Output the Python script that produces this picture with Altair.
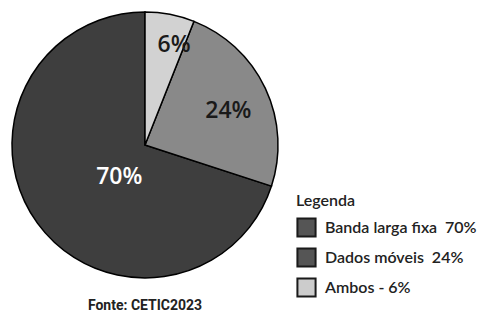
import altair as alt
import pandas as pd

categories = ["Banda larga fixa", "Dados móveis", "Ambos"]
values = [70, 24, 6]
legend_labels = ["Banda larga fixa\u00a0\u00a070%", "Dados móveis\u00a0\u00a024%", "Ambos - 6%"]
slice_labels = ["70%", "24%", "6%"]
pie_order = [3, 2, 1]
colors = ["#3e3e3e", "#898989", "#d2d2d2"]
legend_colors = ["#555555", "#555555", "#cccccc"]

df = pd.DataFrame({
    "categoria": categories,
    "valor": values,
    "legenda": legend_labels,
    "rotulo": slice_labels,
    "ordem": pie_order,
})

theta_scale = alt.Scale(domain=[0, 100])

base = alt.Chart(df).encode(
    theta=alt.Theta("valor:Q", stack=True, scale=theta_scale),
    order=alt.Order("ordem:Q"),
)

arcs = base.mark_arc(outerRadius=133, stroke="black", strokeWidth=1.5).encode(
    fill=alt.Fill(
        "categoria:N",
        scale=alt.Scale(domain=categories, range=colors),
        legend=None,
    ),
)

legend_layer = base.mark_arc(outerRadius=100, opacity=0.001).encode(
    color=alt.Color(
        "legenda:N",
        scale=alt.Scale(domain=legend_labels, range=legend_colors),
        legend=alt.Legend(
            title="Legenda",
            orient="none",
            legendX=288,
            legendY=185,
            symbolType="square",
            symbolSize=330,
            symbolStrokeColor="#1a1a1a",
            symbolStrokeWidth=2,
            symbolOpacity=1,
            labelFont="Lato",
            labelFontSize=16,
            labelFontWeight=600,
            labelColor="#222",
            labelLimit=300,
            titleFont="Lato",
            titleFontSize=16,
            titleFontWeight=600,
            titleColor="#222",
            titlePadding=8,
            rowPadding=3,
            labelOffset=8,
        ),
    ),
)

mids = alt.Chart(df).transform_window(
    cum="sum(valor)", sort=[alt.SortField("ordem", order="ascending")]
).transform_calculate(mid="datum.cum - datum.valor / 2")


def label_layer(name, radius, color, dx, dy):
    return mids.transform_filter(alt.datum.rotulo == name).mark_text(
        radius=radius, font="Open Sans", fontSize=23, fontWeight=600, color=color,
        dx=dx, dy=dy,
    ).encode(
        theta=alt.Theta("mid:Q", stack=None, scale=theta_scale),
        text="rotulo:N",
    )


chart = alt.layer(
    arcs,
    legend_layer,
    label_layer("6%", 102, "#1a1a1a", 10, 0),
    label_layer("24%", 91, "#1a1a1a", 1, 5),
    label_layer("70%", 43, "white", 9, 7),
).properties(
    width=274,
    height=274,
    padding=0,
    title=alt.TitleParams(
        "Fonte: CETIC2023",
        orient="bottom",
        anchor="middle",
        font="Roboto",
        fontSize=14,
        fontWeight="bold",
        color="#222",
        offset=-2,
    ),
).configure_view(stroke=None).configure(background="white")

chart.save("out.html", embed_options={"renderer": "svg", "actions": False})
